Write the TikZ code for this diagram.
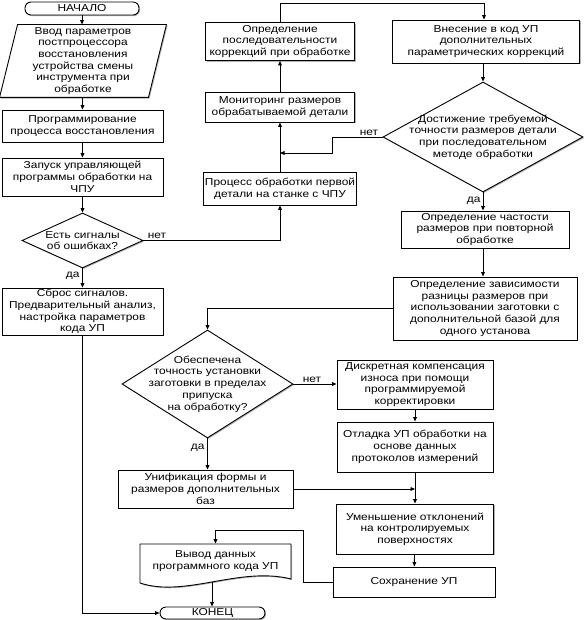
\documentclass[tikz,border=0pt]{standalone}
\usepackage{fontspec}
\setmainfont{Liberation Sans}[FakeStretch=1.18]
\usetikzlibrary{arrows.meta,shapes.geometric,calc,shadows}
\begin{document}
\begin{tikzpicture}[x=1pt,y=-1pt,
  font=\fontsize{10.1}{11.7}\selectfont,
  line width=0.9pt,
  shad/.style={drop shadow={shadow xshift=1.1pt,shadow yshift=-1.1pt,fill=black!50,opacity=.6}},
  box/.style={draw, fill=white, align=center, inner sep=1pt, shad},
  term/.style={draw, fill=white, rounded corners=6pt, align=center, inner sep=0pt, shad},
  dia/.style={draw, fill=white, shape=diamond, inner sep=0pt, shad},
  txt/.style={align=center, inner sep=0pt},
  lbl/.style={inner sep=1pt},
  arr/.style={-{Triangle[length=4.5pt,width=3.8pt]}},
]
\useasboundingbox (0,0) rectangle (583,620);

% left column
\node[term, minimum width=114, minimum height=13] (start) at (82,8.5) {НАЧАЛО};
\node[minimum width=166, minimum height=72, inner sep=0pt] (input) at (83,61) {};
\fill[black!50,opacity=.6] ($(input.north west)+(19.1,1.1)$) -- ($(input.north east)+(1.1,1.1)$) -- ($(input.south east)+(-16.9,1.1)$) -- ($(input.south west)+(1.1,1.1)$) -- cycle;
\draw[fill=white] ($(input.north west)+(18,0)$) -- (input.north east) -- ($(input.south east)+(-18,0)$) -- (input.south west) -- cycle;
\node[txt] at (input) {Ввод параметров\\постпроцессора\\восстановления\\устройства смены\\инструмента при\\обработке};
\node[box, minimum width=161, minimum height=32] (prog) at (82.5,126) {Программирование\\процесса восстановления};
\node[box, minimum width=161, minimum height=38] (launch) at (82.5,177) {Запуск управляющей\\программы обработки на\\ЧПУ};
\node[dia, minimum width=121, minimum height=55] (d1) at (82.5,240.5) {};
\node[txt] at (d1) {Есть сигналы\\об ошибках?};
\node[box, minimum width=161, minimum height=47] (reset) at (82.5,311.5) {Сброс сигналов.\\Предварительный анализ,\\настройка параметров\\кода УП};

% middle column
\node[box, minimum width=149, minimum height=38] (seq) at (280,41.5) {Определение\\последовательности\\коррекций при обработке};
\node[box, minimum width=149, minimum height=30] (mon) at (280,107) {Мониторинг размеров\\обрабатываемой детали};
\node[box, minimum width=149, minimum height=33] (proc) at (280,188.5) {Процесс обработки первой\\детали на станке с ЧПУ};

% right column
\node[box, minimum width=187, minimum height=43] (vnes) at (486,41.5) {Внесение в код УП\\дополнительных\\параметрических коррекций};
\node[dia, minimum width=200, minimum height=110] (d2) at (483,137) {};
\node[txt] at (d2) {Достижение требуемой\\точности размеров детали\\при последовательном\\методе обработки};
\node[box, minimum width=168, minimum height=37] (freq) at (485,229.5) {Определение частости\\размеров при повторной\\обработке};
\node[box, minimum width=184, minimum height=63] (dep) at (485,308.5) {Определение зависимости\\разницы размеров при\\использовании заготовки с\\дополнительной базой для\\одного установа};

% lower part
\node[dia, minimum width=171, minimum height=108] (d3) at (207.5,384) {};
\node[txt] at (d3) {Обеспечена\\точность установки\\заготовки в пределах\\припуска\\на обработку?};
\node[box, minimum width=156, minimum height=49] (disc) at (415,384.5) {Дискретная компенсация\\износа при помощи\\программируемой\\корректировки};
\node[box, minimum width=156, minimum height=50] (otl) at (415,447) {Отладка УП обработки на\\основе данных\\протоколов измерений};
\node[box, minimum width=175, minimum height=38] (unif) at (205.5,489) {Унификация формы и\\размеров дополнительных\\баз};
\node[box, minimum width=157, minimum height=50] (umen) at (415,529) {Уменьшение отклонений\\на контролируемых\\поверхностях};
\node[box, minimum width=162, minimum height=30] (save) at (414,582) {Сохранение УП};

\node[minimum width=151, minimum height=38, inner sep=0pt] (out) at (215.5,563) {};
\fill[black!50,opacity=.6] (141.1,545.1) -- (292.1,545.1) -- (292.1,580.1) .. controls (241.1,567.1) and (186.1,599.1) .. (141.1,584.1) -- cycle;
\draw[fill=white] (140,544) -- (291,544) -- (291,579) .. controls (240,566) and (185,598) .. (140,583) -- cycle;
\node[txt] at (215.5,561) {Вывод данных\\программного кода УП};
\coordinate (outb) at (212,582);
\node[term, minimum width=105, minimum height=12, rounded corners=6pt] (end) at (212.5,613) {КОНЕЦ};

% connectors
\draw[arr] (start.south) -- (start.south |- input.north);
\draw[arr] (prog.north |- input.south) -- (prog.north);
\draw[arr] (prog) -- (launch);
\draw[arr] (launch.south) -- (d1.north);
\draw[arr] (d1.south) -- (reset.north);
\node[lbl, anchor=east] at (81,276) {да};
\draw[arr] (reset.south) -- (reset.south |- end.west) -- (end.west);
\draw[arr] (d1.east) -- (proc.south |- d1.east) -- (proc.south);
\node[lbl, anchor=south] at (157,240) {нет};
\draw[arr] (proc) -- (mon);
\draw[arr] (mon) -- (seq);
\coordinate (topl) at (280,3);
\coordinate (topr) at (484,3);
\draw[arr] (seq.north) -- (topl) -- (topr) -- (topr |- vnes.north);
\draw[arr] (d2.north |- vnes.south) -- (d2.north);
\coordinate (n2a) at (332,137);
\coordinate (n2b) at (332,153);
\draw[arr] (d2.west) -- (n2a) -- (n2b) -- (mon.south |- n2b);
\node[lbl, anchor=south] at (369,137) {нет};
\draw[arr] (d2.south) -- (d2.south |- freq.north);
\node[lbl, anchor=east] at (482,201) {да};
\draw[arr] (d2.south |- freq.south) -- (d2.south |- dep.north);
\draw[arr] (dep.west) -- (d3.north |- dep.west) -- (d3.north);
\draw[arr] (d3.east) -- (disc.west |- d3.east);
\node[lbl, anchor=south] at (312,384) {нет};
\draw[arr] (d3.south) -- (d3.south |- unif.north);
\node[lbl, anchor=east] at (206,448) {да};
\draw[arr] (disc) -- (otl);
\draw[arr] (otl) -- (umen);
\draw[arr] (unif.east) -- (otl.south |- unif.east);
\draw[arr] (umen) -- (save);
\coordinate (s1) at (303,582);
\coordinate (s2) at (303,530);
\draw[arr] (save.west) -- (s1) -- (s2) -- (215.5,530) -- (out.north);
\draw[arr] (outb) -- (outb |- end.north);
\end{tikzpicture}
\end{document}
